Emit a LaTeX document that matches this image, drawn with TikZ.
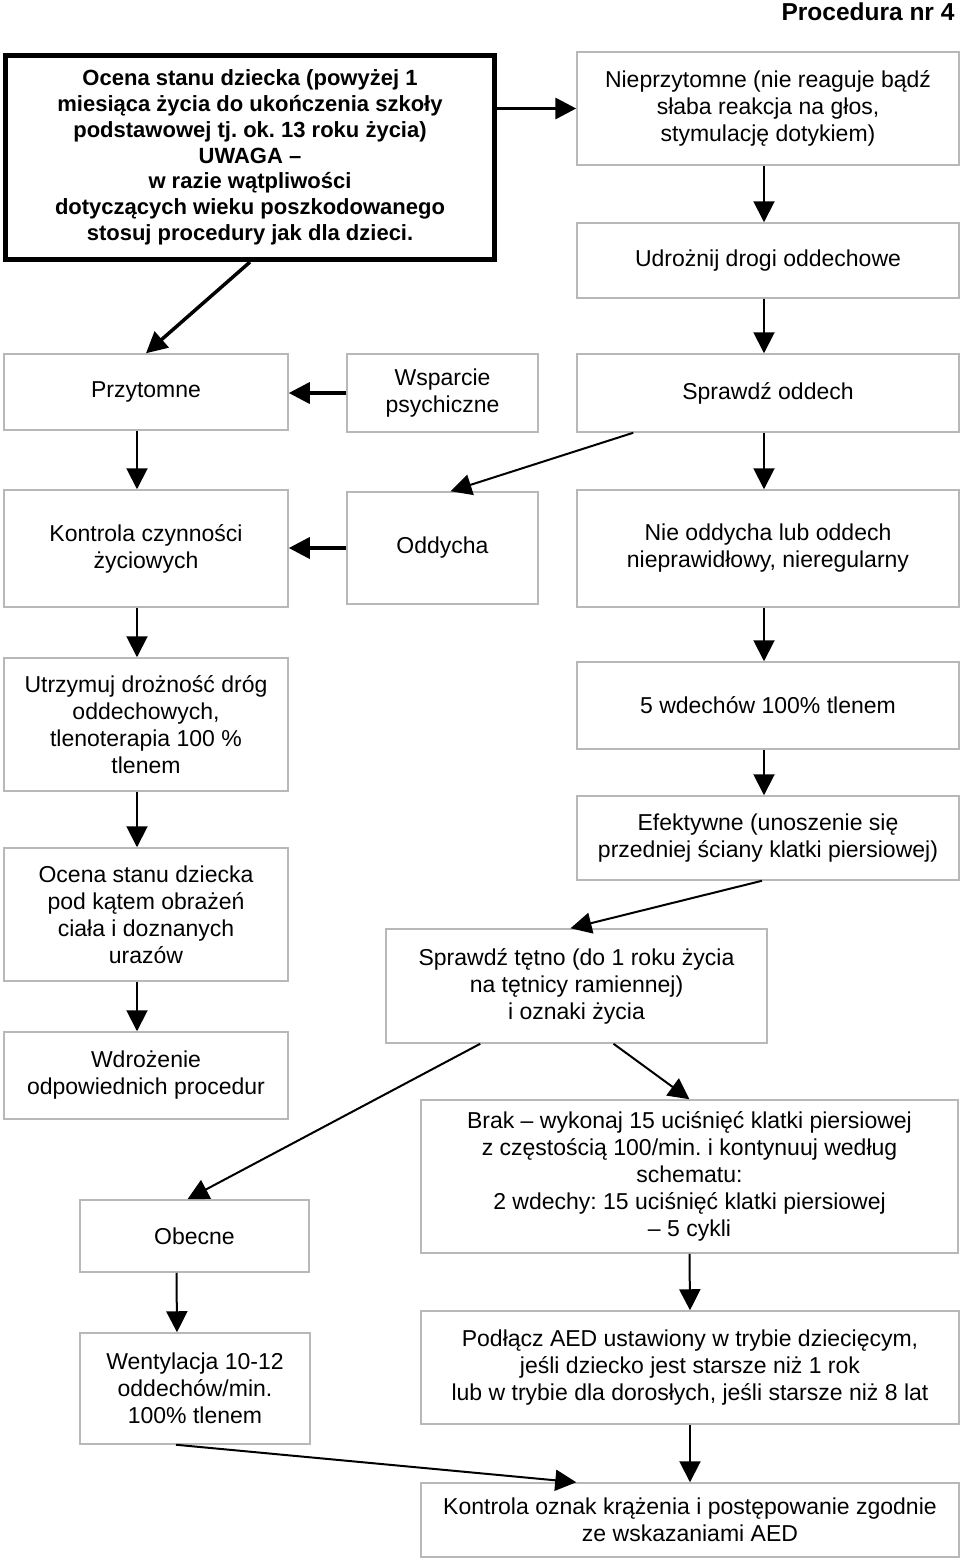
\documentclass[tikz,border=0pt]{standalone}
\usepackage{fontspec}
\setmainfont{Liberation Sans}
\usetikzlibrary{arrows.meta}
\definecolor{ramka}{gray}{0.72}
\frenchspacing

\begin{document}
\begin{tikzpicture}[x=1pt,y=-1pt,
  blok/.style={draw=ramka,line width=1.5pt,align=center,inner sep=0pt,
    font=\fontsize{23}{27}\selectfont},
  strz/.style={-{Triangle[length=21pt,width=21pt]},line width=2pt},
  grub/.style={strz,line width=3.5pt}]

\useasboundingbox (0,0) rectangle (960,1559);

\def\wl{284}% lewa kolumna
\def\wp{382}% prawa kolumna

\node[anchor=east,font=\bfseries\fontsize{24.5}{29}\selectfont] (tytul) at (958,12) {Procedura nr 4};

\node[draw,line width=5pt,align=center,inner sep=0pt,minimum width=489pt,minimum height=204pt,
  font=\bfseries\fontsize{22}{25.8}\selectfont] (ocena) at (250,157.5)
  {Ocena stanu dziecka (powyżej 1\\ miesiąca życia do ukończenia szkoły\\
   podstawowej tj. ok. 13 roku życia)\\ UWAGA –\\ w razie wątpliwości\\
   dotyczących wieku poszkodowanego\\ stosuj procedury jak dla dzieci.};

\node[blok,minimum width=\wp pt,minimum height=113pt] (niep) at (768,108.5)
  {Nieprzytomne (nie reaguje bądź\\ słaba reakcja na głos,\\ stymulację dotykiem)};
\node[blok,minimum width=\wp pt,minimum height=75pt] (udr) at (768,260.5) {Udrożnij drogi oddechowe};

\node[blok,minimum width=\wl pt,minimum height=76pt] (przyt) at (146,392) {Przytomne};% wiersz 1
\node[blok,minimum width=191pt,minimum height=78pt] (wsp) at (442.5,393) {Wsparcie\\ psychiczne};
\node[blok,minimum width=\wp pt,minimum height=78pt] (sprodd) at (768,393) {Sprawdź oddech};

\node[blok,minimum width=\wl pt,minimum height=117pt] (kontr) at (146,548.5) {Kontrola czynności\\ życiowych};% wiersz 2
\node[blok,minimum width=191pt,minimum height=112pt] (oddycha) at (442.5,548) {Oddycha};
\node[blok,minimum width=\wp pt,minimum height=117pt] (nieodd) at (768,548.5)
  {Nie oddycha lub oddech\\ nieprawidłowy, nieregularny};

\node[blok,minimum width=\wl pt,minimum height=133pt] (utrz) at (146,724.5)
  {Utrzymuj drożność dróg\\ oddechowych,\\ tlenoterapia 100 \%\\ tlenem};
\node[blok,minimum width=\wp pt,minimum height=87pt] (wdech) at (768,705.5) {5 wdechów 100\% tlenem};
\node[blok,minimum width=\wp pt,minimum height=84pt] (efekt) at (768,838)
  {Efektywne (unoszenie się\\ przedniej ściany klatki piersiowej)};
\node[blok,minimum width=\wl pt,minimum height=133pt] (urazy) at (146,914.5)
  {Ocena stanu dziecka\\ pod kątem obrażeń\\ ciała i doznanych\\ urazów};
\node[blok,minimum width=381pt,minimum height=114pt] (tetno) at (576.5,986)
  {Sprawdź tętno (do 1 roku życia\\ na tętnicy ramiennej)\\ i oznaki życia};
\node[blok,minimum width=\wl pt,minimum height=87pt] (wdroz) at (146,1075.5)
  {Wdrożenie\\ odpowiednich procedur};

\node[blok,minimum width=537pt,minimum height=153pt] (brak) at (689.5,1176.5)
  {Brak – wykonaj 15 uciśnięć klatki piersiowej\\ z częstością 100/min. i kontynuuj według\\
   schematu:\\ 2 wdechy: 15 uciśnięć klatki piersiowej\\ – 5 cykli};
\node[blok,minimum width=229pt,minimum height=72pt] (obecne) at (194.5,1236) {Obecne};
\node[blok,minimum width=230pt,minimum height=111pt] (went) at (195,1388.5)
  {Wentylacja 10-12\\ oddechów/min.\\ 100\% tlenem};
\node[blok,minimum width=538pt,minimum height=113pt] (podl) at (690,1367.5)
  {Podłącz AED ustawiony w trybie dziecięcym,\\ jeśli dziecko jest starsze niż 1 rok\\
   lub w trybie dla dorosłych, jeśli starsze niż 8 lat};
\node[blok,minimum width=538pt,minimum height=74pt] (aed) at (690,1520)
  {Kontrola oznak krążenia i postępowanie zgodnie\\ ze wskazaniami AED};

\draw[grub] (ocena.east |- niep.west) -- (niep.west);% strzałki grube
\draw[grub] (ocena.south) -- (przyt.north);
\draw[grub] (wsp.west) -- (wsp.west -| przyt.east);
\draw[grub] (oddycha.west) -- (oddycha.west -| kontr.east);

\draw[strz] ([xshift=-4pt]niep.south) -- ([xshift=-4pt]udr.north);% prawa kolumna
\draw[strz] ([xshift=-4pt]udr.south) -- ([xshift=-4pt]sprodd.north);
\draw[strz] ([xshift=-4pt]sprodd.south) -- ([xshift=-4pt]nieodd.north);
\draw[strz] ([xshift=-4pt]nieodd.south) -- ([xshift=-4pt]wdech.north);
\draw[strz] ([xshift=-4pt]wdech.south) -- ([xshift=-4pt]efekt.north);
\draw[strz] ([xshift=57pt]sprodd.south west) -- ([xshift=8pt]oddycha.north);
\draw[strz] ([xshift=-6pt]efekt.south) -- ([xshift=-6pt]tetno.north);

\draw[strz] ([xshift=-9pt]przyt.south) -- ([xshift=-9pt]kontr.north);% lewa kolumna
\draw[strz] ([xshift=-9pt]kontr.south) -- ([xshift=-9pt]utrz.north);
\draw[strz] ([xshift=-9pt]utrz.south) -- ([xshift=-9pt]urazy.north);
\draw[strz] ([xshift=-9pt]urazy.south) -- ([xshift=-9pt]wdroz.north);

\draw[strz] ([xshift=95pt]tetno.south west) -- ([xshift=-7pt]obecne.north);% tętno
\draw[strz] ([xshift=37pt]tetno.south) -- (brak.north);
\draw[strz] ([xshift=-18pt]obecne.south) -- ([xshift=-18pt]went.north);
\draw[strz] (brak.south) -- (podl.north);
\draw[strz] (podl.south) -- (aed.north);
\draw[strz] ([xshift=-19pt]went.south) -- ([xshift=156pt]aed.north west);

\end{tikzpicture}
\end{document}
